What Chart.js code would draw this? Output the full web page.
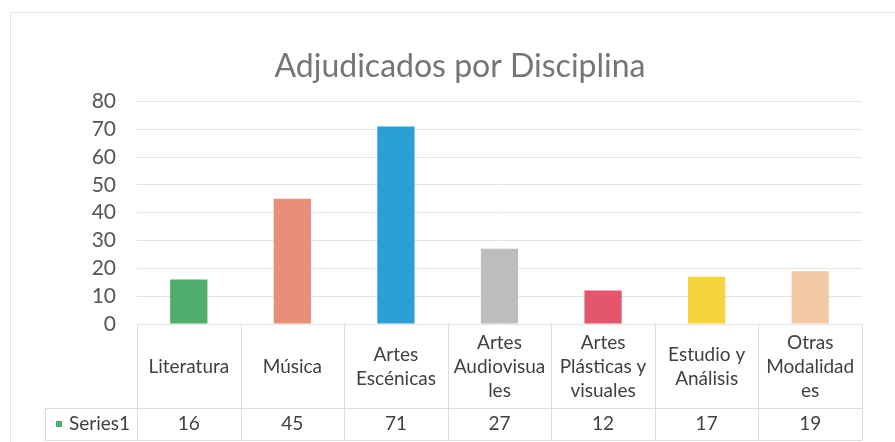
<!DOCTYPE html>
<html>
<head>
<meta charset="utf-8">
<script src="https://cdn.jsdelivr.net/npm/chart.js@4/dist/chart.umd.min.js"></script>
<style>
  html, body { margin: 0; padding: 0; background: #fff; }
  #wrap { width: 895px; height: 442px; position: relative; }
</style>
</head>
<body>
<div id="wrap"><canvas id="chart"></canvas></div>
<script>
const categorias = [
  ['Literatura'],
  ['Música'],
  ['Artes', 'Escénicas'],
  ['Artes', 'Audiovisua', 'les'],
  ['Artes', 'Plásticas y', 'visuales'],
  ['Estudio y', 'Análisis'],
  ['Otras', 'Modalidad', 'es'],
];
const serie1 = [16, 45, 71, 27, 12, 17, 19];
const colores = ['#4fae6c', '#e98f78', '#2b9fd6', '#bdbdbd', '#e4566d', '#f4d63c', '#f1c9a2'];
const serieNombre = 'Series1';
const yTicks = [0, 10, 20, 30, 40, 50, 60, 70, 80];

const FONT = 'Lato, "Open Sans", sans-serif';
const LINEA = '#dcdcdc';

const tablaDatos = {
  id: 'tablaDatos',
  beforeDraw(chart) {
    const ctx = chart.ctx;
    ctx.save();
    ctx.fillStyle = '#fff';
    ctx.fillRect(0, 0, chart.width, chart.height);
    ctx.strokeStyle = '#e2e2e2';
    ctx.lineWidth = 1;
    ctx.beginPath();
    ctx.moveTo(10.5, chart.height);
    ctx.lineTo(10.5, 12.5);
    ctx.lineTo(chart.width, 12.5);
    ctx.stroke();
    ctx.restore();
  },
  afterDraw(chart) {
    const ctx = chart.ctx;
    const x = chart.scales.x;
    const area = chart.chartArea;
    const half = (x.getPixelForValue(1) - x.getPixelForValue(0)) / 2;
    const top = area.bottom;
    const filaY = 408;
    const fondo = 440;
    const izq = 45;
    ctx.save();
    ctx.strokeStyle = LINEA;
    ctx.lineWidth = 1;
    ctx.beginPath();
    for (let i = 0; i <= categorias.length; i++) {
      const bx = Math.round(x.getPixelForValue(i) - half) + 0.5;
      ctx.moveTo(bx, top);
      ctx.lineTo(bx, fondo);
    }
    ctx.moveTo(izq + 0.5, filaY);
    ctx.lineTo(izq + 0.5, fondo);
    ctx.moveTo(izq, filaY + 0.5);
    ctx.lineTo(area.right, filaY + 0.5);
    ctx.moveTo(izq, fondo + 0.5);
    ctx.lineTo(area.right, fondo + 0.5);
    ctx.stroke();

    ctx.fillStyle = '#404040';
    ctx.font = '19px ' + FONT;
    ctx.textAlign = 'center';
    ctx.textBaseline = 'middle';
    const lh = 24;
    const midHead = (top + filaY) / 2 + 1;
    categorias.forEach((lineas, i) => {
      const cx = x.getPixelForValue(i);
      const y0 = midHead - (lineas.length - 1) * lh / 2;
      lineas.forEach((t, j) => ctx.fillText(t, cx, y0 + j * lh));
      ctx.fillText(String(serie1[i]), cx, (filaY + fondo) / 2);
    });

    ctx.textAlign = 'left';
    ctx.fillText(serieNombre, 69, (filaY + fondo) / 2);
    ctx.fillStyle = colores[0];
    ctx.fillRect(56, (filaY + fondo) / 2 - 3, 6, 6);
    ctx.restore();
  },
};

new Chart(document.getElementById('chart'), {
  type: 'bar',
  data: {
    labels: categorias,
    datasets: [{
      label: serieNombre,
      data: serie1,
      backgroundColor: colores,
      categoryPercentage: 1,
      barPercentage: 0.36,
    }],
  },
  options: {
    responsive: true,
    maintainAspectRatio: false,
    animation: false,
    layout: { padding: { left: 58, right: 33, top: 0, bottom: 118 } },
    plugins: {
      legend: { display: false },
      tooltip: { enabled: false },
      title: {
        display: true,
        text: 'Adjudicados por Disciplina',
        color: '#757575',
        font: { family: FONT, size: 32, weight: 'normal' },
        padding: { top: 47, bottom: 16 },
      },
    },
    scales: {
      x: { display: false },
      y: {
        min: yTicks[0],
        max: yTicks[yTicks.length - 1],
        afterFit: (s) => { s.width = 79; },
        afterBuildTicks: (s) => { s.ticks = yTicks.map((v) => ({ value: v })); },
        border: { display: false },
        grid: { color: '#e4e4e4', drawTicks: false },
        ticks: { autoSkip: false, padding: 21, color: '#555', font: { family: FONT, size: 21 } },
      },
    },
  },
  plugins: [tablaDatos],
});
</script>
</body>
</html>
